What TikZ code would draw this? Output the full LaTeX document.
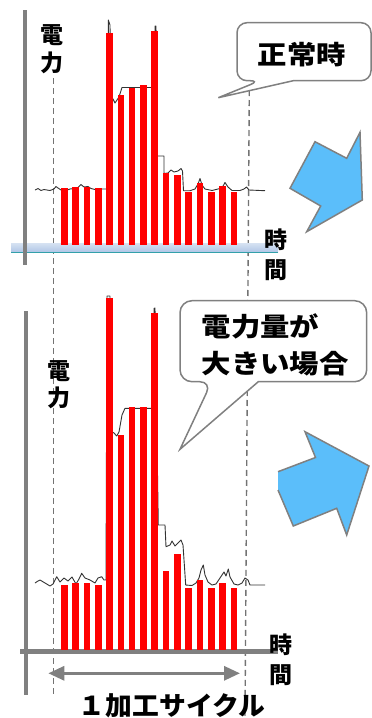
\documentclass[tikz,border=0pt]{standalone}
\usepackage{fontspec}
\usepackage{graphicx}
\setmainfont{Noto Sans CJK JP}
\usetikzlibrary{arrows.meta}
\definecolor{axgray}{RGB}{128,128,128}
\definecolor{arrowblue}{RGB}{91,190,250}
\definecolor{bandtop}{RGB}{214,226,242}
\definecolor{bandbot}{RGB}{176,198,230}
\definecolor{bandline}{RGB}{50,160,170}
\newcommand{\widetext}[1]{\scalebox{1.13}[1]{#1}}
\newcommand{\midtext}[1]{\scalebox{1.03}[1]{#1}}
\begin{document}
\begin{tikzpicture}[x=1pt,y=-1pt,
  lbl/.style={font=\fontsize{23}{23}\selectfont\bfseries, inner sep=0pt},
  big/.style={font=\fontsize{26}{26}\selectfont\bfseries, inner sep=0pt},
  barfill/.style={fill=red},
  curve/.style={draw=black!80, line width=0.9pt, line join=round},
  axis/.style={draw=axgray, line width=4.5pt},
  guide/.style={draw=axgray!90!black, line width=1.4pt, dash pattern=on 6pt off 4pt},
  callout/.style={draw=axgray, line width=1.5pt, fill=white},
  bluearrow/.style={fill=arrowblue, draw=axgray, line width=1.5pt, line join=miter},
  cyclearrow/.style={draw=axgray, line width=3pt,
     {Triangle[length=16pt,width=14pt]}-{Triangle[length=16pt,width=14pt]}}
]
\useasboundingbox (0,0) rectangle (372,718);

% ---------- guides ----------
\draw[guide] (53.3,78) -- (53.3,697);
\draw[guide] (249.3,90) -- (245,718);

% ---------- top panel ----------
\shade[top color=bandtop, bottom color=bandbot] (11,243) rectangle (278,252);
\draw[bandline, line width=1.5pt] (11,252.5) -- (278,252.5);
\draw[axis] (25,10) -- (25,265);

\draw[curve] (35,190) -- (38,188.5) -- (41,190.5) -- (44,189.5) -- (50,190.5) -- (54,189)
 -- (56,186.5) -- (58,188) -- (61,190) -- (66,190.5) -- (70,189) -- (74,188.5) -- (78,187.5)
 -- (81,184.5) -- (84,187) -- (88,186.5) -- (91,188.5) -- (95,189.5) -- (98,188.5) -- (102,189)
 -- (106,189) -- (108.3,188) -- (108.3,20) -- (110,25) -- (111,98) -- (113,99) -- (115,103)
 -- (117,100) -- (119,97) -- (122,87.5) -- (155,87.5) -- (155,26) -- (156,26) -- (157.5,156)
 -- (164,156) -- (164,173.5) -- (168,173) -- (171,170) -- (174,172) -- (178,171) -- (181,168.5)
 -- (182.5,171) -- (183.5,190.7) -- (190,190.7) -- (195,189) -- (198,184) -- (200,178.5)
 -- (202,185) -- (205,189) -- (212,190.5) -- (216,189.5) -- (222,188) -- (225,182.5)
 -- (228,187) -- (232,190.5) -- (240,190.5) -- (244,189) -- (246.5,187) -- (249,190) -- (265,190.7);

\foreach \t [count=\i from 0] in {188.3,186.7,186.7,188.3,32.7,95,88.3,85,30.7,173.3,174.5,191.5,183,191.5,185.5,191.5}
  \fill[barfill] ({64.3+11.3*\i-3.3},\t) rectangle ({64.3+11.3*\i+3.3},245);

\node[lbl] (pwA1) at (51.7,35) {電};
\node[lbl] (pwA2) at (51.7,63) {力};
\node[lbl] (tmA1) at (275.7,240) {時};
\node[lbl] (tmA2) at (275.7,269.7) {間};

\draw[callout] (237,50) [rounded corners=10pt] -- (237,80.7) -- (260,80.7) [sharp corners]
  -- (218.3,97.7) -- (293.3,80.7) [rounded corners=10pt] -- (371,80.7) -- (371,22.7)
  -- (237,22.7) -- cycle;
\node[big] (normal) at (302,55) {\widetext{正常時}};

\draw[bluearrow] (290,188.3) -- (315,141.7) -- (346.7,158.3) -- (360,132.3)
  -- (362.3,200) -- (306.7,231.7) -- (320.7,206) -- cycle;

% ---------- bottom panel ----------
\draw[axis] (26,311) -- (26,695);
\draw[axis] (20,651.5) -- (278,651.5);

\draw[curve] (35,583) -- (38,581) -- (40,580) -- (45,583) -- (50,586) -- (53,584) -- (56.7,576.7)
 -- (60,582) -- (64,578) -- (68,581) -- (72,577) -- (76,584) -- (79,579) -- (81.7,573.3)
 -- (85,578) -- (90,580) -- (95,583) -- (98,578) -- (101.7,576.7) -- (104,580) -- (106,580)
 -- (107,296) -- (110,296) -- (111.7,431.7) -- (114,433) -- (116.7,436) -- (119,432)
 -- (122,415) -- (125,408.3) -- (154,408.3) -- (154,308.3) -- (155,308) -- (158.3,525)
 -- (165,525) -- (166,546.7) -- (170,545) -- (172,541) -- (175,546) -- (178,543) -- (181,540)
 -- (183,545) -- (185.7,585) -- (192,585.5) -- (196,583) -- (199,578) -- (201,570) -- (203.3,565)
 -- (205,575) -- (208,582) -- (212,585) -- (216,584) -- (220,578) -- (224,572) -- (226,576)
 -- (228.3,569) -- (230,577) -- (234,584) -- (238,585) -- (242,583) -- (245,578) -- (248,580)
 -- (250,585) -- (265,585);

\foreach \t [count=\i from 0] in {585,583.3,583.3,585,298.3,435,406.7,406.7,313.3,570.7,554,588.3,580,588.3,582.7,588.3}
  \fill[barfill] ({64.3+11.3*\i-3.3},\t) rectangle ({64.3+11.3*\i+3.3},650);

\node[lbl] (pwB1) at (59,370.7) {電};
\node[lbl] (pwB2) at (59,398.3) {力};
\node[lbl] (tmB1) at (280.7,645) {時};
\node[lbl] (tmB2) at (280.7,675.5) {間};

\draw[callout] (180,340) [rounded corners=12pt] -- (180,381.7) -- (211.7,381.7) [sharp corners]
  -- (180,449.3) -- (258.3,381.7) [rounded corners=12pt] -- (366.7,381.7) -- (366.7,300.7)
  -- (180,300.7) -- cycle;
\node[big, anchor=west] (large1) at (201.5,326.7) {\widetext{電力量が}};
\node[big, anchor=west] (large2) at (201.5,363.3) {\widetext{大きい場合}};

\fill[arrowblue] (278,471.7) -- (315.5,457.5) -- (305,431.7) -- (369,466) -- (346.7,535)
  -- (336.7,508.3) -- (293.3,526) -- (278,490) -- cycle;
\draw[axgray, line width=1.5pt, line join=miter] (278,471.7) -- (315.5,457.5) -- (305,431.7)
  -- (369,466) -- (346.7,535) -- (336.7,508.3) -- (293.3,526) -- (278,490);

\coordinate (cycL) at (48.3,673.3);
\coordinate (cycR) at (240,673.3);
\draw[cyclearrow] (cycL) -- (cycR);
\node[big] (cycle) at (172,706) {\midtext{１加工サイクル}};
\end{tikzpicture}
\end{document}
